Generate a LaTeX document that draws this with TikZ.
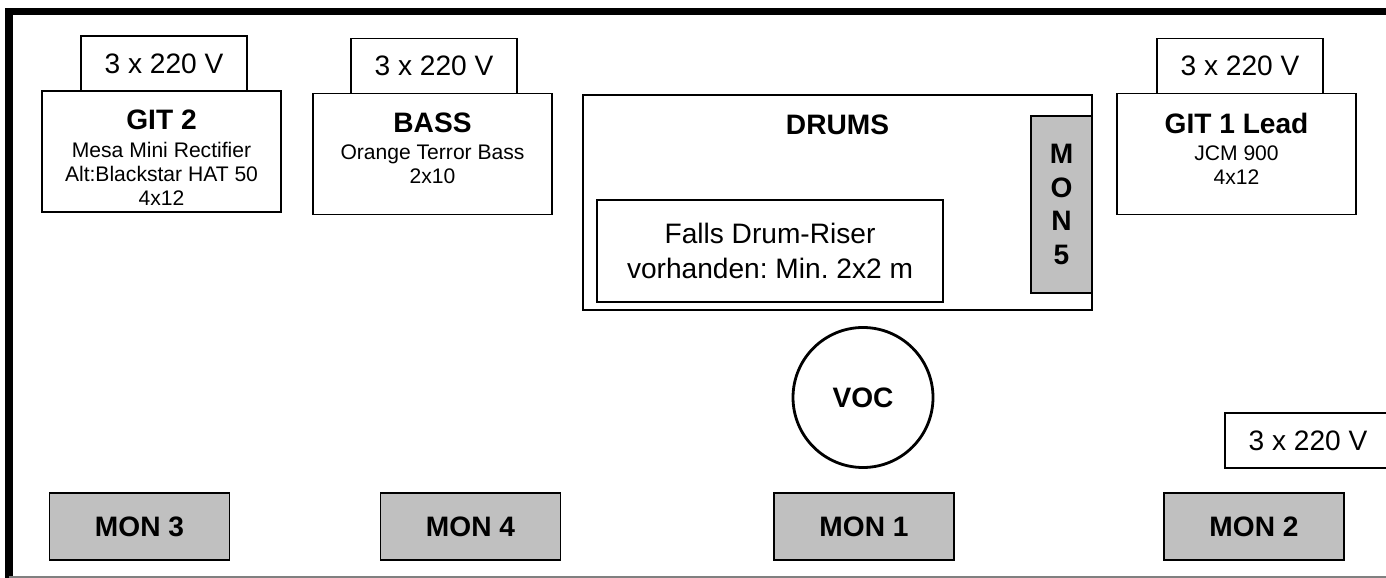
\documentclass[tikz,border=0pt]{standalone}
\usepackage{fontspec}
\setmainfont{Liberation Sans}
\usetikzlibrary{positioning}
\frenchspacing
\definecolor{mongray}{HTML}{C0C0C0}
\tikzset{
  box/.style={draw,rectangle,line width=0.9pt,inner sep=0pt,outer sep=0pt},
  powerbox/.style={box,minimum width=3.32cm,minimum height=1.1cm,font=\fontsize{16}{19}\selectfont},
  ampbox/.style={box,minimum width=4.78cm,minimum height=2.42cm},
  amptext/.style={align=center,inner sep=0pt,font=\fontsize{12}{13.7}\selectfont},
  title/.style={inner sep=0pt,font=\fontsize{16}{19}\selectfont\bfseries},
  monbox/.style={box,fill=mongray,minimum width=3.6cm,minimum height=1.34cm,font=\fontsize{16}{19}\selectfont\bfseries},
  stageline/.style={line width=4pt}
}

\begin{document}
\begin{tikzpicture}[node distance=0pt]
\useasboundingbox (0,0) rectangle (27.72,-11.56);
% stage edge
\draw[stageline] (0.18,-11.56) -- (0.18,-0.23) -- (27.72,-0.23);
\draw[gray,line width=0.8pt] (0.18,-11.54) -- (27.72,-11.54);

% amps with power
\node[ampbox] (git2) at (3.23,-3.03) {};
\node[powerbox,above=of git2,xshift=0.05cm] (git2pwr) {3 x 220 V};
\node[amptext,below=0.38cm of git2.north] (git2txt)
{{\fontsize{16}{19}\selectfont\bfseries GIT 2}\\[1.7pt] Mesa Mini Rectifier\\ Alt:Blackstar HAT 50\\ 4x12};

\node[ampbox] (bass) at (8.65,-3.08) {};
\node[powerbox,above=of bass,xshift=0.03cm] (basspwr) {3 x 220 V};
\node[amptext,below=0.38cm of bass.north] (basstxt)
{{\fontsize{16}{19}\selectfont\bfseries BASS}\\[1.7pt] Orange Terror Bass\\ 2x10};

\node[ampbox] (git1) at (24.73,-3.08) {};
\node[powerbox,above=of git1,xshift=0.07cm] (git1pwr) {3 x 220 V};
\node[amptext,below=0.38cm of git1.north] (git1txt)
{{\fontsize{16}{19}\selectfont\bfseries GIT 1 Lead}\\[1.7pt] JCM 900\\ 4x12};

% drums
\node[box,minimum width=10.18cm,minimum height=4.30cm] (drums) at (16.75,-4.05) {};
\node[title,below=0.40cm of drums.north] (drumstxt) {DRUMS};
\node[box,minimum width=6.92cm,minimum height=2.04cm,align=center,
  font=\fontsize{16}{19.5}\selectfont] (riser) at (15.40,-5.02)
{Falls Drum-Riser\\vorhanden: Min. 2x2 m};
\node[monbox,minimum width=1.22cm,minimum height=3.54cm,align=center] (mon5) at (21.23,-4.09)
{M\\O\\N\\5};

% vocals
\node[circle,draw,line width=1.6pt,minimum size=2.8cm,inner sep=0pt,
  font=\fontsize{16}{19}\selectfont\bfseries] (voc) at (17.26,-7.95) {VOC};
\node[powerbox] (monpwr) at (26.16,-8.81) {3 x 220 V};

% monitors
\node[monbox] (mon3) at (2.79,-10.53) {MON 3};
\node[monbox] (mon4) at (9.41,-10.53) {MON 4};
\node[monbox] (mon1) at (17.28,-10.53) {MON 1};
\node[monbox] (mon2) at (25.08,-10.53) {MON 2};
\end{tikzpicture}
\end{document}
